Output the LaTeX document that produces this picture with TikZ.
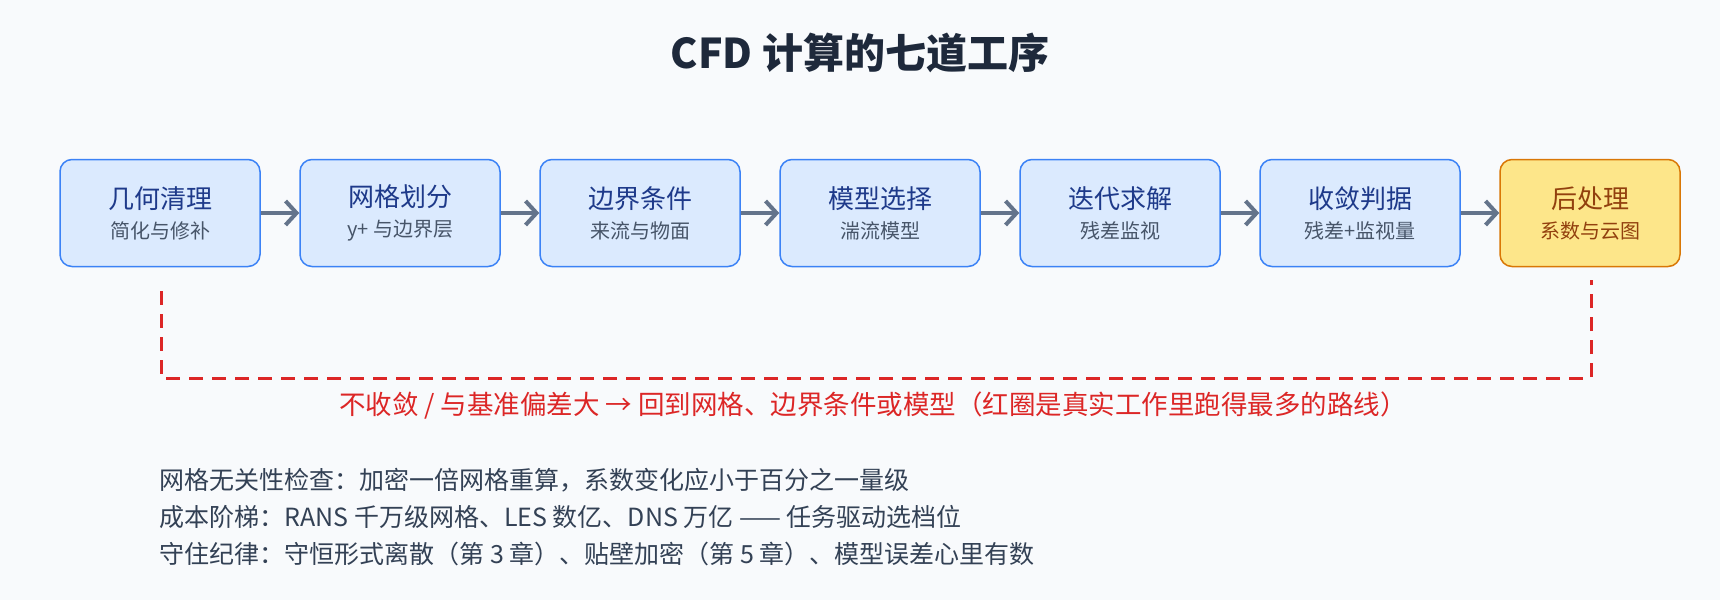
\documentclass[tikz,border=0pt]{standalone}
\usepackage{fontspec}
\setmainfont{Noto Sans CJK SC}
\usetikzlibrary{positioning,arrows.meta}
\definecolor{bgc}{HTML}{F8FAFC}
\definecolor{boxfill}{HTML}{DBEAFE}
\definecolor{boxline}{HTML}{3B82F6}
\definecolor{boxtext}{HTML}{1E3A8A}
\definecolor{subtext}{HTML}{475569}
\definecolor{arrowc}{HTML}{64748B}
\definecolor{endfill}{HTML}{FDE68A}
\definecolor{endline}{HTML}{D97706}
\definecolor{endtext}{HTML}{92400E}
\definecolor{loopred}{HTML}{DC2626}
\definecolor{titlec}{HTML}{1E293B}
\definecolor{notec}{HTML}{334155}
\tikzset{
  stage/.style={draw=boxline, fill=boxfill, line width=1.5pt, rounded corners=12pt,
    minimum width=200pt, minimum height=107pt, align=center, text=boxtext,
    font=\fontsize{26}{36}\selectfont},
  last/.style={stage, draw=endline, fill=endfill, text=endtext, minimum width=180pt},
  flow/.style={-{Straight Barb[length=11pt,width=24pt,line width=4pt]}, line width=4.5pt, draw=arrowc},
  back/.style={dash pattern=on 14pt off 9pt, line width=3pt, draw=loopred},
  note/.style={anchor=west, text=notec, font=\fontsize{25}{30}\selectfont},
}
\begin{document}
\begin{tikzpicture}[x=1pt,y=1pt]
    \fill[bgc] (0,0) rectangle (1720,-600);

    % title
    \node[font=\fontsize{41}{48}\selectfont\bfseries, text=titlec] (title) at (860,-53) {CFD 计算的七道工序};

    % seven steps
    \node[stage] (geom) at (160,-213) {几何清理\\[-6pt]{\fontsize{20}{24}\selectfont\color{subtext}简化与修补}};
    \node[stage] (mesh) at (400,-213) {网格划分\\[-6pt]{\fontsize{20}{24}\selectfont\color{subtext}y+ 与边界层}};
    \node[stage] (bc) at (640,-213) {边界条件\\[-6pt]{\fontsize{20}{24}\selectfont\color{subtext}来流与物面}};
    \node[stage] (model) at (880,-213) {模型选择\\[-6pt]{\fontsize{20}{24}\selectfont\color{subtext}湍流模型}};
    \node[stage] (solve) at (1120,-213) {迭代求解\\[-6pt]{\fontsize{20}{24}\selectfont\color{subtext}残差监视}};
    \node[stage] (conv) at (1360,-213) {收敛判据\\[-6pt]{\fontsize{20}{24}\selectfont\color{subtext}残差+监视量}};
    \node[last] (post) at (1590,-213) {后处理\\[-6pt]{\fontsize{20}{24}\selectfont\color{endtext}系数与云图}};

    \foreach \a/\b in {geom/mesh, mesh/bc, bc/model, model/solve, solve/conv, conv/post}
        \draw[flow] (\a) -- (\b);

    % feedback loop
    \coordinate (loopa) at (161,-291);
    \coordinate (loopb) at (161,-378);
    \coordinate (loopc) at (1591,-378);
    \coordinate (loopd) at (1591,-280);
    \draw[back] (loopa) -- (loopb) -- (loopc) -- (loopd);
    \node[text=loopred, font=\fontsize{26.5}{30}\selectfont] (loop) at (873,-406)
        {不收敛 / 与基准偏差大 → 回到网格、边界条件或模型（红圈是真实工作里跑得最多的路线）};

    % notes
    \node[note] (n1) at (156,-480) {网格无关性检查：加密一倍网格重算，系数变化应小于百分之一量级};
    \node[note] (n2) at (156,-517) {成本阶梯：RANS 千万级网格、LES 数亿、DNS 万亿 —— 任务驱动选档位};
    \node[note] (n3) at (156,-554) {守住纪律：守恒形式离散（第 3 章）、贴壁加密（第 5 章）、模型误差心里有数};
\end{tikzpicture}
\end{document}
